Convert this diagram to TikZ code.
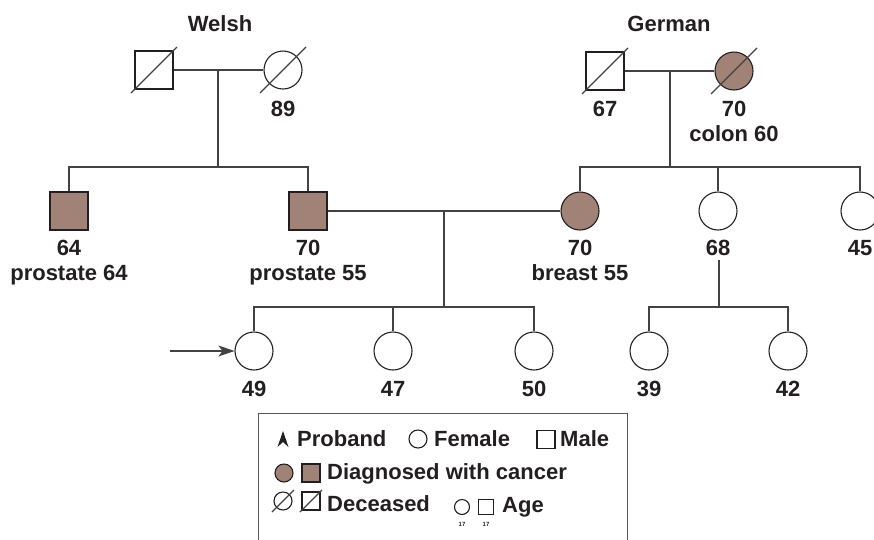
\documentclass[tikz,border=0pt]{standalone}
\usepackage{fontspec}
\setmainfont{Liberation Sans}
\usetikzlibrary{arrows.meta}
\definecolor{cancer}{RGB}{161,130,119}
\definecolor{ink}{RGB}{35,31,32}
\tikzset{
  person/.style={draw=ink, line width=1.1pt, inner sep=0pt, minimum size=#1},
  person/.default=38pt,
  female/.style={person=#1, circle},
  female/.default=38pt,
  male/.style={person=#1, rectangle},
  male/.default=38pt,
  affected/.style={fill=cancer},
  txt/.style={inner sep=0pt, anchor=base, text=ink, font=\bfseries\fontsize{22}{25}\selectfont},
  keytxt/.style={txt, anchor=base west},
  line/.style={draw=ink!85, line width=1.1pt},
}
% slash across a deceased person
\newcommand{\deceased}[2][23]{\draw[line] ([shift={(-#1,#1)}]#2.center) -- ([shift={(#1,-#1)}]#2.center);}

\begin{document}
\begin{tikzpicture}[x=1pt, y=-1pt]
  \useasboundingbox (0,0) rectangle (874,539);
  % Welsh side
  \node[txt] (welsh) at (220,31) {Welsh};
  \node[male] (wgf) at (154,70) {};
  \node[female] (wgm) at (283,70) {};
  \deceased{wgf} \deceased{wgm}
  \node[txt] (wgmage) at (283,116) {89};
  \draw[line] (wgf) -- (wgm);
  \coordinate (wmid) at (218,70);
  \coordinate (wsib) at (218,167);
  \node[male, affected] (uncle) at (69,211) {};
  \node[male, affected] (father) at (308,211) {};
  \draw[line] (wmid) -- (wsib);
  \draw[line] (wsib) -| (uncle.north);
  \draw[line] (wsib) -| (father.north);
  \node[txt] (uncleage) at (69,255) {64};
  \node[txt] (unclecx) at (69,280) {prostate 64};
  \node[txt] (fatherage) at (308,255) {70};
  \node[txt] (fathercx) at (308,280) {prostate 55};
  % German side
  \node[txt] (german) at (669,31) {German};
  \node[male] (ggf) at (605,71) {};
  \node[female, affected] (ggm) at (734,71) {};
  \deceased{ggf} \deceased{ggm}
  \node[txt] (ggfage) at (605,116) {67};
  \node[txt] (ggmage) at (734,116) {70};
  \node[txt] (ggmcx) at (734,141) {colon 60};
  \draw[line] (ggf) -- (ggm);
  \coordinate (gmid) at (670,71);
  \coordinate (gsib) at (670,167);
  \node[female, affected] (mother) at (580,211) {};
  \node[female] (aunt) at (718,211) {};
  \node[female] (aunt2) at (860,211) {};
  \draw[line] (gmid) -- (gsib);
  \draw[line] (gsib) -| (mother.north);
  \draw[line] (gsib) -| (aunt.north);
  \draw[line] (gsib) -| (aunt2.north);
  \node[txt] (motherage) at (580,255) {70};
  \node[txt] (mothercx) at (580,280) {breast 55};
  \node[txt] (auntage) at (718,255) {68};
  \node[txt] (aunt2age) at (860,255) {45};
  % parents and children
  \draw[line] (father) -- (mother);
  \coordinate (pmid) at (444,211);
  \coordinate (psib) at (444,307);
  \node[female] (proband) at (254,351) {};
  \node[female] (sis1) at (393,351) {};
  \node[female] (sis2) at (534,351) {};
  \draw[line] (pmid) -- (psib);
  \draw[line] (psib) -| (proband.north);
  \draw[line] (psib) -| (sis1.north);
  \draw[line] (psib) -| (sis2.north);
  \node[txt] (probandage) at (254,396) {49};
  \node[txt] (sis1age) at (393,396) {47};
  \node[txt] (sis2age) at (534,396) {50};
  \coordinate (arrowtail) at (170,351);
  \draw[line, -{Stealth[length=16pt,width=11pt,inset=4pt]}] (arrowtail) -- (proband.west);
  % cousins
  \coordinate (amid) at (719,260);
  \coordinate (asib) at (719,307);
  \node[female] (cous1) at (649,351) {};
  \node[female] (cous2) at (788,351) {};
  \draw[line] (amid) -- (asib);
  \draw[line] (asib) -| (cous1.north);
  \draw[line] (asib) -| (cous2.north);
  \node[txt] (cous1age) at (649,396) {39};
  \node[txt] (cous2age) at (788,396) {42};
  % key
  \draw[draw=ink!75, line width=1pt] (258,545) |- (627,413) -- (627,545);
  \fill[ink] (283,431) -- (288.5,447) -- (283,442) -- (277.5,447) -- cycle;
  \node[keytxt] (kproband) at (297,446) {Proband};
  \node[female=18pt] (kfemale) at (418,439) {};
  \node[keytxt] (kfemaletxt) at (434,446) {Female};
  \node[male=18pt] (kmale) at (546,439.5) {};
  \node[keytxt] (kmaletxt) at (560,446) {Male};
  \node[female=18pt, affected] (kcf) at (284,473) {};
  \node[male=18pt, affected] (kcm) at (311,473) {};
  \node[keytxt] (kcancer) at (327,479) {Diagnosed with cancer};
  \node[female=18pt] (kdf) at (283,501) {};
  \node[male=18pt] (kdm) at (311,501) {};
  \deceased[11]{kdf} \deceased[11]{kdm}
  \node[keytxt] (kdead) at (327,511) {Deceased};
  \node[female=15pt] (kaf) at (462,507) {};
  \node[male=15pt] (kam) at (486,507) {};
  \node[txt, font=\bfseries\fontsize{6}{7}\selectfont] (kafage) at (462,526) {17};
  \node[txt, font=\bfseries\fontsize{6}{7}\selectfont] (kamage) at (486,526) {17};
  \node[keytxt] (kage) at (502,512) {Age};
\end{tikzpicture}
\end{document}
